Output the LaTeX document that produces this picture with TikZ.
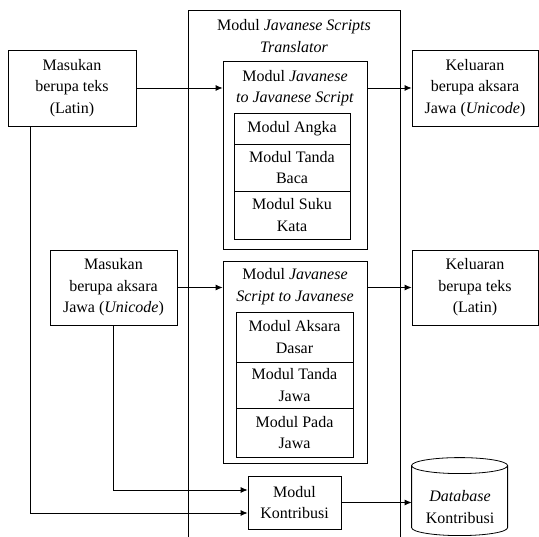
\documentclass[tikz,border=0pt]{standalone}
\usepackage{fontspec}
\setmainfont{Liberation Serif}
\usetikzlibrary{arrows.meta}

\begin{document}
\begin{tikzpicture}[x=1pt, y=-1pt, line width=0.8pt,
	font=\fontsize{16}{21.5}\selectfont,
	every node/.style={align=center, inner sep=0pt},
	box/.style={draw},
	arr/.style={-{Latex[length=7pt,width=6pt]}}]

	\useasboundingbox (0,0) rectangle (539,537);

		\node (tr) at (294,36) {Modul \textit{Javanese Scripts}\\\textit{Translator}};
		\draw (188,537) |- (400,10) -- (400,537);

		\node (m1) [box, minimum width=128pt, minimum height=76pt] at (72,88) {Masukan\\berupa teks\\(Latin)};
		\node (ja) [box, minimum width=144pt, minimum height=188pt] at (295,155) {};
		\node (jat) at (295,88) {Modul \textit{Javanese}\\\textit{to Javanese Script}};
		\node (a1) [box, minimum width=116pt, minimum height=31pt] at (292,128.5) {Modul Angka};
		\node (a2) [box, minimum width=116pt, minimum height=47pt] at (292,167.5) {Modul Tanda\\Baca};
		\node (a3) [box, minimum width=116pt, minimum height=48pt] at (292,215) {Modul Suku\\Kata};
		\node (k1) [box, minimum width=126pt, minimum height=76pt] at (475,88) {Keluaran\\berupa aksara\\Jawa (\textit{Unicode})};

		\node (m2) [box, minimum width=127pt, minimum height=75pt] at (113.5,287.5) {Masukan\\berupa aksara\\Jawa (\textit{Unicode})};
		\node (jb) [box, minimum width=144pt, minimum height=202pt] at (295,362) {};
		\node (jbt) at (295,286.5) {Modul \textit{Javanese}\\\textit{Script to Javanese}};
		\node (b1) [box, minimum width=117pt, minimum height=50pt] at (294.5,337) {Modul Aksara\\Dasar};
		\node (b2) [box, minimum width=117pt, minimum height=46pt] at (294.5,385) {Modul Tanda\\Jawa};
		\node (b3) [box, minimum width=117pt, minimum height=49pt] at (294.5,432.5) {Modul Pada\\Jawa};
		\node (k2) [box, minimum width=126pt, minimum height=75pt] at (475,287.5) {Keluaran\\berupa teks\\(Latin)};

		\node (mk) [box, minimum width=93pt, minimum height=53pt] at (294.5,502.5) {Modul\\Kontribusi};
		\node (db) [minimum width=96pt, minimum height=80pt] at (460,498) {};
		\draw (db.north west) ++(0,8) coordinate (dtl) -- ++(0,62) arc[start angle=180, end angle=360, x radius=48pt, y radius=8pt] -- ++(0,-62);
		\draw (dtl) ++(48,0) ellipse [x radius=48pt, y radius=8pt];
		\node (dbt) at (460,507) {\textit{Database}\\Kontribusi};

		\draw[arr] (m1.east) -- (m1.east -| ja.west);
		\draw[arr] (k1.west -| ja.east) -- (k1.west);
		\draw[arr] (m2.east) -- (m2.east -| jb.west);
		\draw[arr] (k2.west -| jb.east) -- (k2.west);
		\draw[arr] (m2.south) |- ([yshift=12.5pt]mk.west);
		\draw[arr] ([xshift=23pt]m1.south west) |- ([yshift=-10.5pt]mk.west);
		\draw[arr] (mk.east) -- (mk.east -| db.west);

\end{tikzpicture}
\end{document}
